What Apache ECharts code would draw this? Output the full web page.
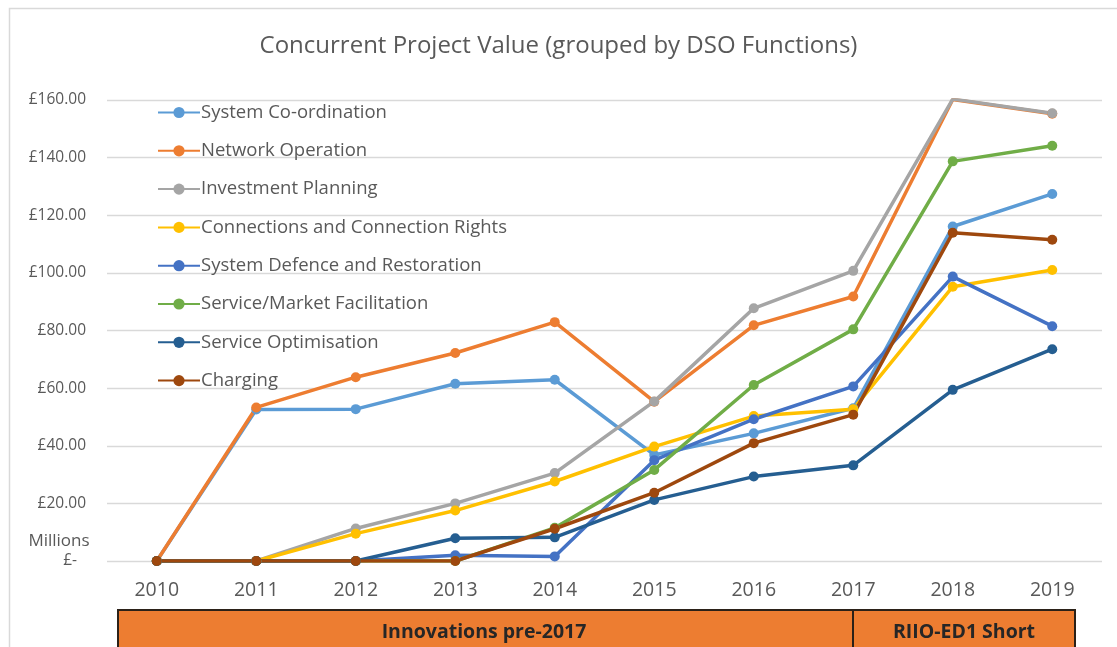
<!DOCTYPE html>
<html>
<head>
<meta charset="utf-8">
<script src="https://cdn.jsdelivr.net/npm/echarts@6/dist/echarts.min.js"></script>
<style>
  html, body { margin: 0; padding: 0; background: #fff; }
  #chart { width: 1117px; height: 647px; }
</style>
</head>
<body>
<div id="chart"></div>
<script>
const years = ['2010', '2011', '2012', '2013', '2014', '2015', '2016', '2017', '2018', '2019'];
const yTicks = [0, 20, 40, 60, 80, 100, 120, 140, 160];

// £ millions
const systemCoordination = [0, 52.6, 52.7, 61.5, 62.9, 36.8, 44.3, 53.0, 116.1, 127.4];
const networkOperation = [0, 53.3, 63.8, 72.2, 82.9, 55.3, 81.8, 91.8, 160.2, 155.2];
const investmentPlanning = [0, 0, 11.3, 20.0, 30.5, 55.4, 87.7, 100.7, 160.3, 155.4];
const connections = [0, 0, 9.5, 17.5, 27.6, 39.7, 50.3, 52.7, 95.2, 101.0];
const systemDefence = [0, 0, 0, 2.0, 1.6, 35.0, 49.2, 60.6, 98.7, 81.5];
const marketFacilitation = [0, 0, 0, 0, 11.5, 31.6, 61.1, 80.4, 138.7, 144.1];
const serviceOptimisation = [0, 0, 0, 7.9, 8.2, 21.2, 29.3, 33.2, 59.4, 73.5];
const charging = [0, 0, 0, 0, 11.2, 23.7, 40.9, 50.8, 113.9, 111.5];

const seriesNames = [
  'System Co-ordination',
  'Network Operation',
  'Investment Planning',
  'Connections and Connection Rights',
  'System Defence and Restoration',
  'Service/Market Facilitation',
  'Service Optimisation',
  'Charging'
];
const seriesData = [
  systemCoordination, networkOperation, investmentPlanning, connections,
  systemDefence, marketFacilitation, serviceOptimisation, charging
];
const colors = ['#5B9BD5', '#ED7D31', '#A5A5A5', '#FFC000', '#4472C4', '#70AD47', '#255E91', '#9E480E'];

const periods = ['Innovations pre-2017', 'RIIO-ED1 Short'];

const chart = echarts.init(document.getElementById('chart'));
const font = '"Open Sans", "Noto Sans", sans-serif';

const option = {
  animation: false,
  color: colors,
  textStyle: { fontFamily: font },
  title: {
    text: 'Concurrent Project Value (grouped by DSO Functions)',
    left: 'center',
    top: 29,
    textStyle: { fontFamily: font, fontSize: 24, fontWeight: 'normal', color: '#595959' }
  },
  legend: {
    orient: 'vertical',
    left: 152,
    top: 98,
    itemWidth: 42,
    itemHeight: 14,
    itemGap: 19.3,
    textStyle: { fontFamily: font, fontSize: 18.5, color: '#595959', padding: [0, 0, 0, -4] },
    data: seriesNames
  },
  grid: { left: 107, right: 15, top: 100, bottom: 86 },
  xAxis: {
    type: 'category',
    data: years,
    boundaryGap: true,
    axisLine: { show: false },
    axisTick: { show: false },
    axisLabel: { fontFamily: font, fontSize: 19.5, color: '#595959', margin: 19 }
  },
  yAxis: {
    type: 'value',
    min: 0,
    max: 160,
    interval: 20,
    splitLine: { lineStyle: { color: '#D9D9D9', width: 1.3 } },
    axisLabel: {
      margin: 21,
      fontFamily: font,
      fontSize: 15.5,
      color: '#595959',
      formatter: function (v) {
        if (yTicks.indexOf(v) < 0) return '';
        return v === 0 ? '{z|£-}' : '£' + v.toFixed(2);
      },
      rich: { z: { fontFamily: font, fontSize: 15.5, color: '#595959', padding: [0, 9, 0, 0] } }
    }
  },
  series: seriesNames.map(function (name, i) {
    return {
      name: name,
      type: 'line',
      data: seriesData[i],
      symbol: 'circle',
      symbolSize: 10,
      lineStyle: { width: 3.5 },
      itemStyle: { color: colors[i] }
    };
  }),
  graphic: [
    {
      type: 'rect',
      shape: { x: 9.5, y: 8.5, width: 1140, height: 700 },
      style: { fill: 'none', stroke: '#D9D9D9', lineWidth: 1.5 },
      silent: true
    },
    {
      type: 'text',
      x: 59, y: 541,
      style: { text: 'Millions', fontFamily: font, fontSize: 17, fill: '#595959', align: 'center', verticalAlign: 'middle' }
    },
    {
      type: 'rect',
      shape: { x: 118, y: 610, width: 735, height: 50 },
      style: { fill: '#ED7D31', stroke: '#2b2118', lineWidth: 2 }
    },
    {
      type: 'rect',
      shape: { x: 853, y: 610, width: 222, height: 50 },
      style: { fill: '#ED7D31', stroke: '#2b2118', lineWidth: 2 }
    },
    {
      type: 'text',
      x: 484, y: 632,
      style: { text: periods[0], fontFamily: font, fontSize: 19.5, fontWeight: 'bold', fill: '#262626', align: 'center', verticalAlign: 'middle' }
    },
    {
      type: 'text',
      x: 964, y: 632,
      style: { text: periods[1], fontFamily: font, fontSize: 19.5, fontWeight: 'bold', fill: '#262626', align: 'center', verticalAlign: 'middle' }
    }
  ]
};

chart.setOption(option);
</script>
</body>
</html>
